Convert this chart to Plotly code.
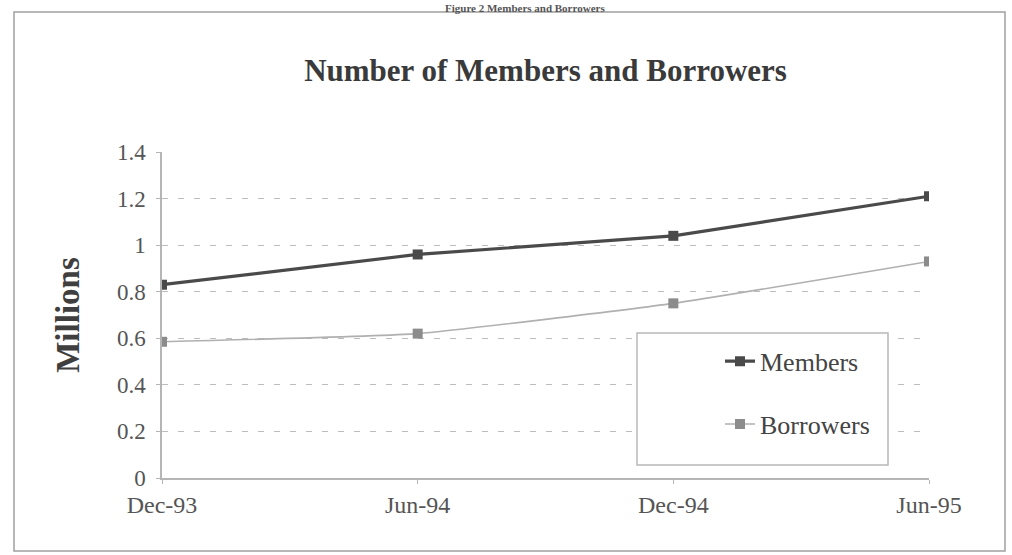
import plotly.graph_objects as go

# Reporting periods and counts (millions)
periods = ["Dec-93", "Jun-94", "Dec-94", "Jun-95"]
members = [0.83, 0.96, 1.04, 1.21]
borrowers = [0.585, 0.62, 0.75, 0.93]
y_ticks = [0, 0.2, 0.4, 0.6, 0.8, 1.0, 1.2, 1.4]
y_tick_text = ["0", "0.2", "0.4", "0.6", "0.8", "1", "1.2", "1.4"]

serif = "Liberation Serif, Times New Roman, serif"

fig = go.Figure()
fig.add_trace(go.Scatter(
    x=periods, y=members, name="Members", mode="lines+markers",
    line=dict(color="#4a4a4a", width=3.2),
    marker=dict(symbol="square", size=10, color="#4a4a4a"),
    legendgroup="m",
))
fig.add_trace(go.Scatter(
    x=periods, y=borrowers, name="Borrowers", mode="lines+markers",
    line=dict(color="#b0b0b0", width=1.6, shape="spline", smoothing=0.4),
    marker=dict(symbol="square", size=10, color="#8c8c8c"),
    legendgroup="b",
))

fig.update_layout(
    width=1012, height=555,
    margin=dict(l=162, r=83, t=152, b=77),
    paper_bgcolor="white", plot_bgcolor="white",
    font=dict(family=serif, color="#555555", size=21),
    title=dict(
        text="<b>Number of Members and Borrowers</b>",
        x=0.5, xref="paper", y=1 - 70 / 555, yref="container",
        xanchor="center", yanchor="middle",
        font=dict(family=serif, size=31, color="#3a3a3a"),
    ),
    xaxis=dict(
        type="category", range=[0, 3], showgrid=False,
        showline=True, linecolor="#b5b5b5", linewidth=1.5,
        ticks="outside", ticklen=4, tickcolor="#b5b5b5",
        tickfont=dict(family=serif, size=24, color="#555555"),
    ),
    yaxis=dict(
        range=[0, 1.4], tickvals=y_ticks, ticktext=y_tick_text,
        showgrid=True, gridcolor="#bdbdbd", griddash="6px,10px", gridwidth=1.2,
        showline=True, linecolor="#b5b5b5", linewidth=1.5,
        ticks="outside", ticklen=4, tickcolor="#b5b5b5",
        ticklabelstandoff=6,
        zeroline=False,
        tickfont=dict(family=serif, size=23, color="#555555"),
        title=dict(text="<b>Millions</b>", standoff=27,
                   font=dict(family=serif, size=33, color="#3f3f3f")),
    ),
    showlegend=True,
    legend=dict(
        x=(720 - 162) / 767, y=0.43, xanchor="left", yanchor="top",
        bgcolor="rgba(0,0,0,0)", borderwidth=0,
        traceorder="grouped", tracegroupgap=26,
        font=dict(family=serif, size=26, color="#444444"),
    ),
    shapes=[
        # legend frame
        dict(type="rect", xref="paper", yref="paper",
             x0=(637 - 162) / 767, x1=(888 - 162) / 767,
             y0=(478 - 465) / 326, y1=(478 - 333) / 326,
             line=dict(color="#b8b8b8", width=1.5), fillcolor="white",
             layer="above"),
        # outer chart frame
        dict(type="rect", xref="paper", yref="paper",
             x0=(14 - 162) / 767, x1=(1005 - 162) / 767,
             y0=(478 - 551) / 326, y1=(478 - 12) / 326,
             line=dict(color="#a0a0a0", width=1.5)),
    ],
    annotations=[
        dict(text="<b>Figure 2 Members and Borrowers</b>",
             xref="paper", yref="paper", x=(525 - 162) / 767,
             y=(478 + 0) / 326, xanchor="center", yanchor="top",
             showarrow=False,
             font=dict(family=serif, size=11, color="#555555")),
    ],
)

fig.write_html("out.html")
